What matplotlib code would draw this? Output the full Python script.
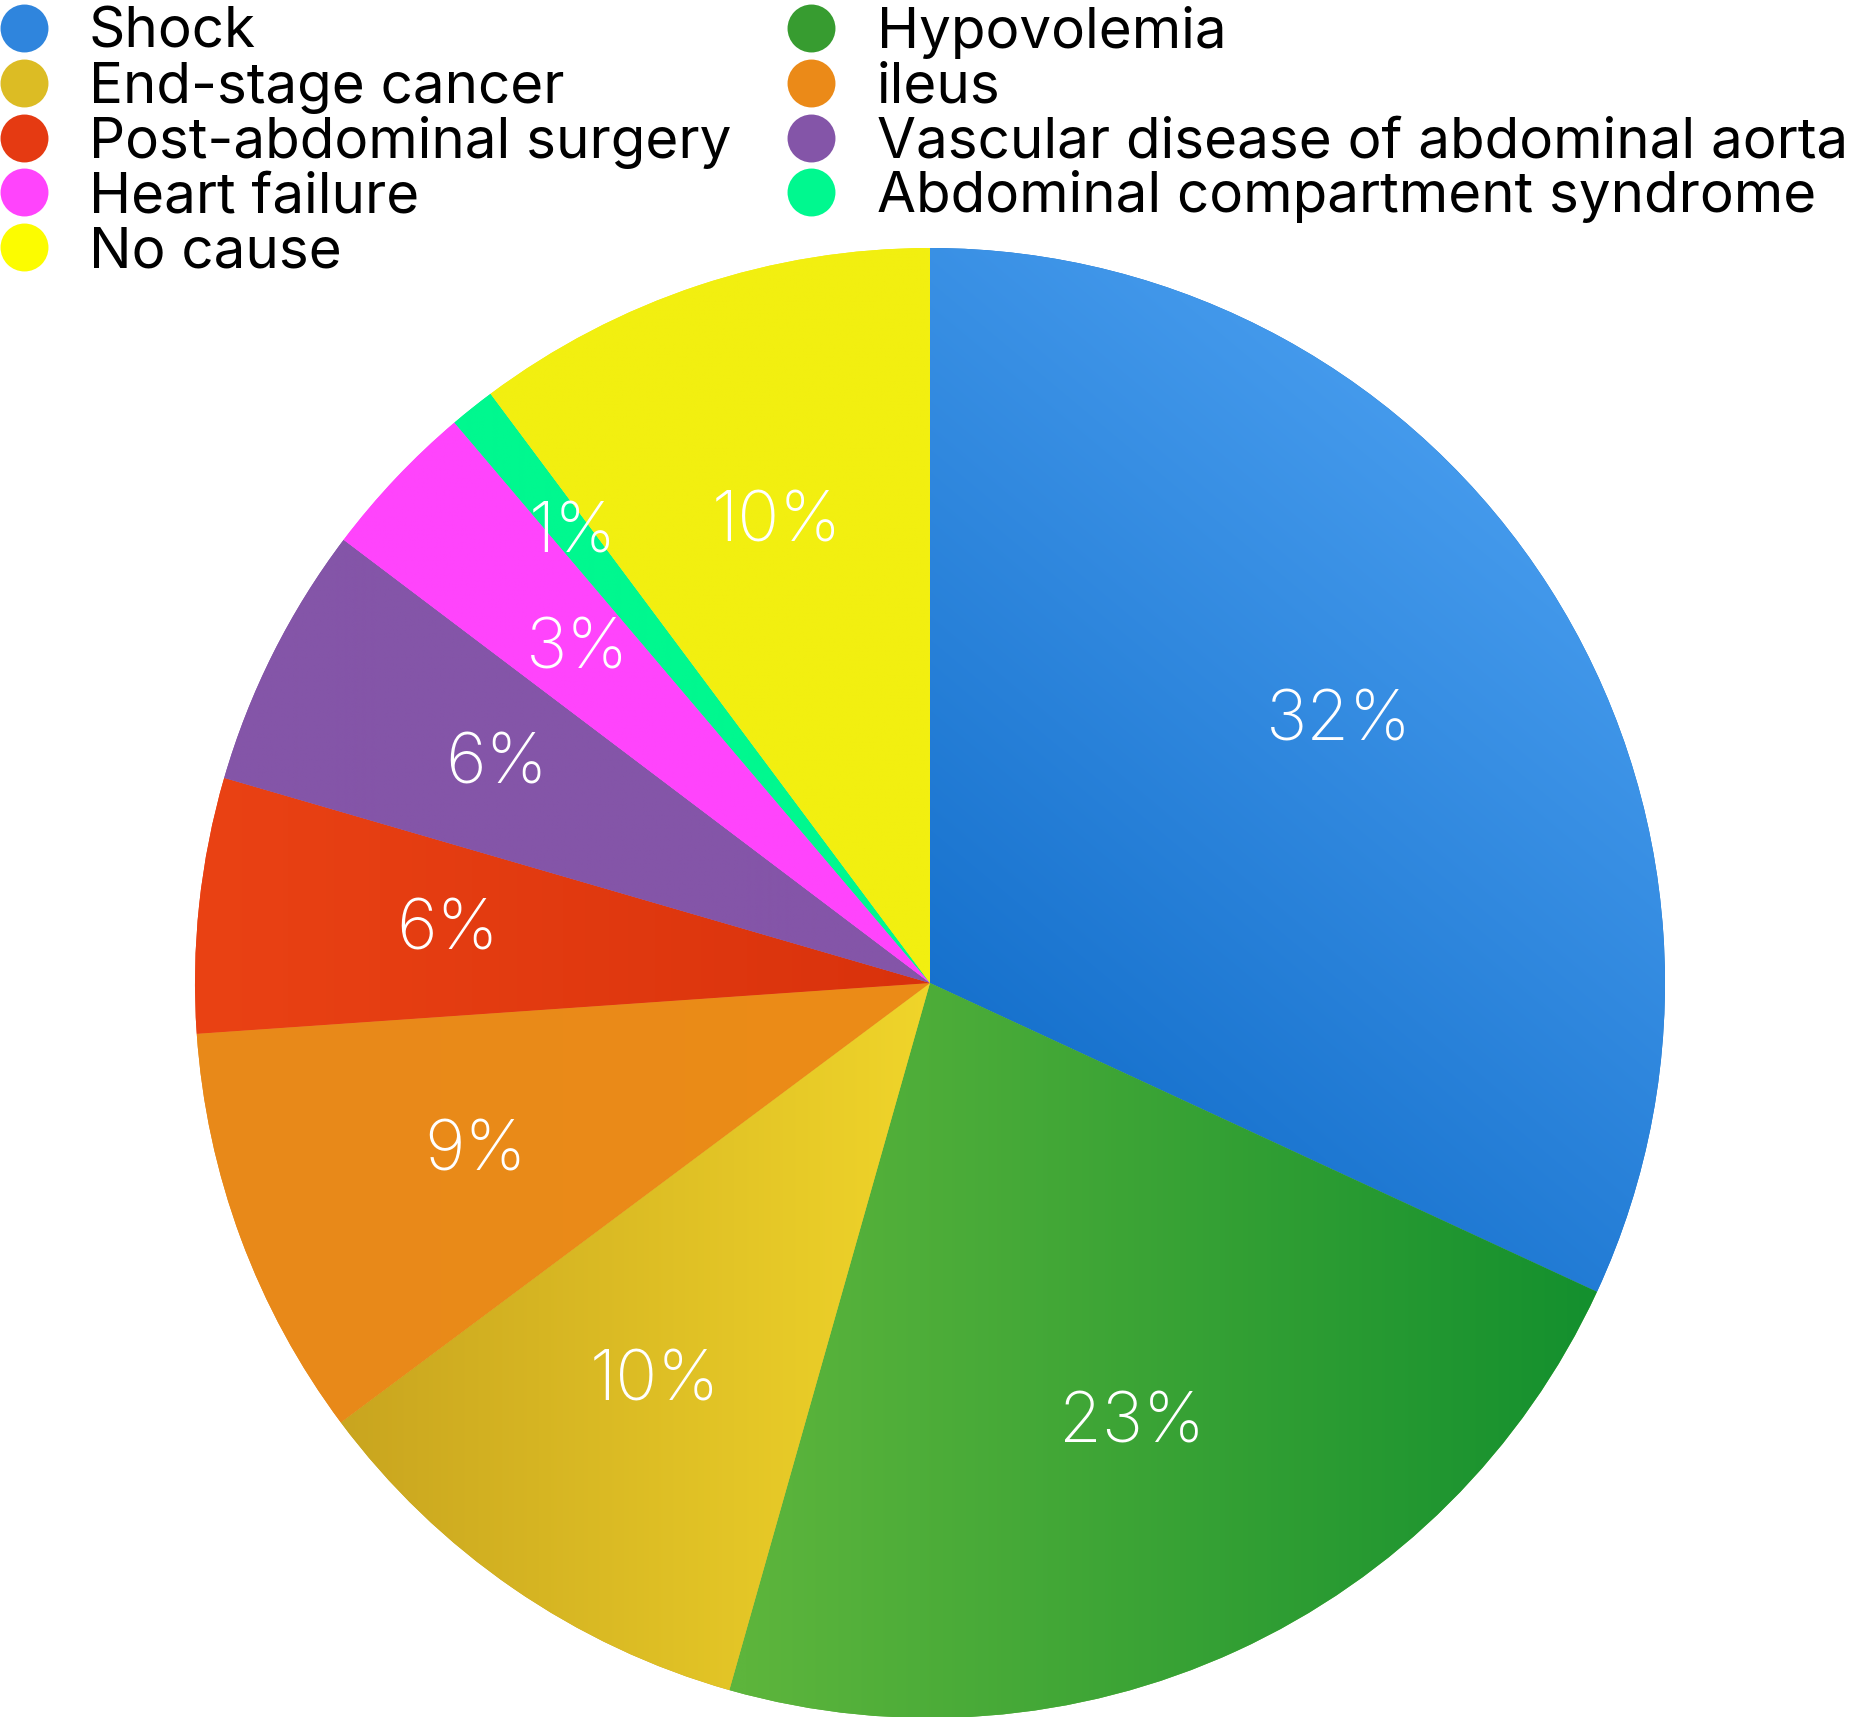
import numpy as np
import matplotlib
matplotlib.use("Agg")
from matplotlib import pyplot as plt
from matplotlib.colors import to_rgb
from matplotlib.lines import Line2D

plt.rcParams['font.family'] = ['Inter', 'DejaVu Sans']

causes = ['Shock', 'Hypovolemia', 'End-stage cancer', 'ileus',
          'Post-abdominal surgery', 'Vascular disease of abdominal aorta',
          'Heart failure', 'Abdominal compartment syndrome', 'No cause']
shares = [31.9, 22.5, 10.4, 9.1, 5.6, 5.8, 3.5, 1.0, 10.2]
pct_labels = ['32%', '23%', '10%', '9%', '6%', '6%', '3%', '1%', '10%']

# gradient (start colour, end colour, start point, end point) per slice
grads = [
    ('#1570cc', '#4a9ff0', (0.0, -0.05), (0.75, 0.85)),
    ('#5db53c', '#14902e', (-0.25, 0.0), (0.9, 0.0)),
    ('#c9a51f', '#f0d52a', (-0.8, 0.0), (0.0, 0.0)),
    ('#e8891a', '#ec8c17', (-1.0, 0.0), (0.0, 0.0)),
    ('#ea4214', '#d9320c', (-1.0, 0.0), (0.0, 0.0)),
    ('#8455a8', '#8455a8', (-1.0, 0.0), (0.0, 0.0)),
    ('#ff44fc', '#ff44fc', (-1.0, 0.0), (0.0, 0.0)),
    ('#00f88f', '#00f88f', (-1.0, 0.0), (0.0, 0.0)),
    ('#f2ef10', '#f2ef10', (-1.0, 0.0), (0.0, 0.0)),
]
legend_colors = ['#2f85dd', '#379c30', '#dcbc24', '#eb8a18', '#e53a12',
                 '#8455a8', '#ff44fc', '#00f88f', '#fcfc00']

W, H = 1858, 1717
fig = plt.figure(figsize=(W / 100, H / 100), dpi=100)

# pie centre (930, 983) px from top-left, radius 735 px
cx, cy, r = 930 / W, 1 - 983 / H, 735
ax = fig.add_axes([cx - r / W, cy - r / H, 2 * r / W, 2 * r / H])

wedges, texts = ax.pie(shares, labels=pct_labels, startangle=90, counterclock=False,
                       labeldistance=0.66, wedgeprops=dict(linewidth=0),
                       textprops=dict(color='white', fontsize=50, weight='light'))

n = 500
g = np.linspace(-1, 1, n)
X, Y = np.meshgrid(g, g)
for w, (c0, c1, p0, p1) in zip(wedges, grads):
    d = np.subtract(p1, p0)
    t = ((X - p0[0]) * d[0] + (Y - p0[1]) * d[1]) / (d @ d)
    t = np.clip(t, 0, 1)[..., None]
    rgb = (1 - t) * np.array(to_rgb(c0)) + t * np.array(to_rgb(c1))
    w.set_facecolor(c0)
    im = ax.imshow(rgb, extent=(-1, 1, -1, 1), origin='lower',
                   interpolation='bilinear', zorder=w.get_zorder() + 0.5)
    im.set_clip_path(w)

for t, w in zip(texts, wedges):
    t.set_ha('center')
    t.set_va('center')
    t.set_zorder(5)
# the 1% label sits further out
mid = np.deg2rad((wedges[7].theta1 + wedges[7].theta2) / 2)
texts[7].set_position((0.78 * np.cos(mid), 0.78 * np.sin(mid)))

ax.set_xlim(-1, 1)
ax.set_ylim(-1, 1)
ax.set_aspect('equal')
ax.axis('off')

# legend: two columns, filled row by row
col_marker_x = [24, 811]
col_text_x = [89, 877]
row0, row_step = 28, 54.8
for i, (lab, col) in enumerate(zip(causes, legend_colors)):
    c, rr = i % 2, i // 2
    yc = row0 + rr * row_step
    fig.add_artist(Line2D([col_marker_x[c] / W], [1 - yc / H], marker='o',
                          markersize=34.5, color=col, markeredgewidth=0,
                          transform=fig.transFigure))
    fig.text(col_text_x[c] / W, 1 - (yc + 20) / H, lab, fontsize=40.7,
             va='baseline', ha='left')

fig.savefig('out.png', dpi=100)
